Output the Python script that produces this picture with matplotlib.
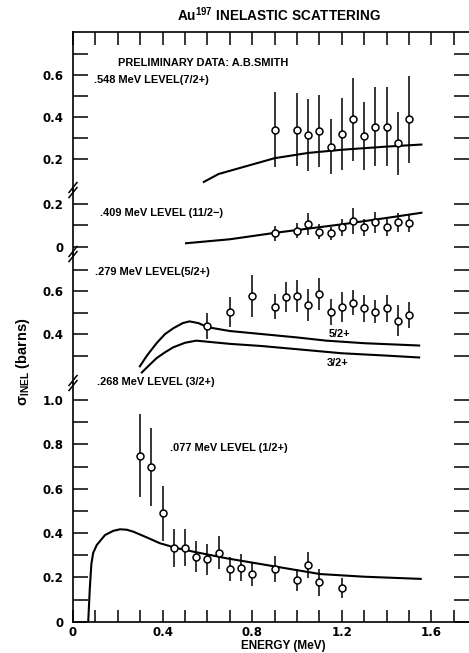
#!/usr/bin/env python3

import matplotlib

matplotlib.use("Agg")
import matplotlib.pyplot as plt
from matplotlib.lines import Line2D

# ============================================================================#
# data (energy in MeV, cross section in barns)

# .548 MeV level (7/2+)
e548 = [0.9, 1.0, 1.05, 1.1, 1.15, 1.2, 1.25, 1.3, 1.35, 1.4, 1.45, 1.5]
s548 = [0.34, 0.34, 0.315, 0.335, 0.26, 0.32, 0.39, 0.31, 0.355, 0.355, 0.275, 0.39]
err548 = [0.178, 0.173, 0.17, 0.17, 0.13, 0.17, 0.197, 0.162, 0.188, 0.188, 0.149, 0.206]
curve548_e = [0.58, 0.65, 0.75, 0.9, 1.05, 1.2, 1.4, 1.56]
curve548_s = [0.09, 0.13, 0.16, 0.205, 0.23, 0.245, 0.26, 0.27]

# .409 MeV level (11/2-)
e409 = [0.9, 1.0, 1.05, 1.1, 1.15, 1.2, 1.25, 1.3, 1.35, 1.4, 1.45, 1.5]
s409 = [0.063, 0.075, 0.106, 0.07, 0.063, 0.091, 0.122, 0.091, 0.114, 0.091, 0.114, 0.11]
err409 = [0.035, 0.035, 0.05, 0.035, 0.03, 0.04, 0.06, 0.04, 0.05, 0.04, 0.045, 0.04]
curve409_e = [0.5, 0.7, 0.9, 1.05, 1.2, 1.4, 1.56]
curve409_s = [0.016, 0.035, 0.065, 0.085, 0.105, 0.135, 0.16]

# .279 MeV level (5/2+) data, with 5/2+ and 3/2+ (.268 level) curves
e279 = [0.6, 0.7, 0.8, 0.9, 0.95, 1.0, 1.05, 1.1, 1.15, 1.2, 1.25, 1.3, 1.35, 1.4, 1.45, 1.5]
s279 = [0.439, 0.504, 0.579, 0.529, 0.573, 0.579, 0.536, 0.588,
        0.503, 0.529, 0.548, 0.521, 0.506, 0.521, 0.464, 0.489]
err279 = [0.06, 0.07, 0.1, 0.06, 0.07, 0.073, 0.075, 0.076,
          0.06, 0.07, 0.06, 0.063, 0.055, 0.063, 0.072, 0.06]
curve52_e = [0.296, 0.33, 0.373, 0.41, 0.448, 0.49, 0.52, 0.56, 0.6, 0.7, 0.85, 1.0, 1.13, 1.3, 1.55]
curve52_s = [0.246, 0.30, 0.358, 0.40, 0.428, 0.452, 0.46, 0.452, 0.433, 0.415, 0.40, 0.385, 0.37, 0.358, 0.347]
curve32_e = [0.304, 0.34, 0.373, 0.41, 0.448, 0.5, 0.55, 0.6, 0.7, 0.84, 1.0, 1.2, 1.4, 1.55]
curve32_s = [0.218, 0.255, 0.288, 0.315, 0.339, 0.36, 0.37, 0.365, 0.355, 0.345, 0.33, 0.311, 0.30, 0.291]

# .077 MeV level (1/2+)
e077 = [0.3, 0.35, 0.4, 0.45, 0.5, 0.55, 0.6, 0.65, 0.7, 0.75, 0.8, 0.9, 1.0, 1.05, 1.1, 1.2]
s077 = [0.749, 0.699, 0.489, 0.334, 0.334, 0.293, 0.281, 0.311,
        0.238, 0.244, 0.215, 0.238, 0.188, 0.256, 0.178, 0.153]
err077 = [0.187, 0.177, 0.124, 0.085, 0.083, 0.071, 0.07, 0.075,
          0.055, 0.06, 0.053, 0.058, 0.05, 0.06, 0.06, 0.045]
curve077_e = [0.068, 0.075, 0.082, 0.09, 0.106, 0.143, 0.18, 0.21, 0.24, 0.27, 0.33,
              0.388, 0.46, 0.537, 0.686, 0.909, 1.103, 1.3, 1.557]
curve077_s = [0.0, 0.15, 0.26, 0.31, 0.346, 0.391, 0.41, 0.417, 0.415, 0.406, 0.38,
              0.354, 0.333, 0.316, 0.286, 0.248, 0.215, 0.203, 0.193]

xticks = [i / 10 for i in range(18)]
xticklabels = ["0", "", "", "", "0.4", "", "", "", "0.8", "", "", "",
               "1.2", "", "", "", "1.6", ""]

# ============================================================================#
W, H = 469, 653
plt.rcParams["mathtext.fontset"] = "custom"
plt.rcParams["mathtext.rm"] = "Liberation Sans:bold"
plt.rcParams["mathtext.bf"] = "Liberation Sans:bold"

fig = plt.figure(figsize=(W / 100, H / 100), dpi=100)
fig.patch.set_facecolor("white")

TXT = dict(family="Liberation Sans", fontweight="bold", fontsize=7.9)
NUM = dict(family="DejaVu Sans", fontweight="bold", fontsize=8.5)


def px(x, y):
    """pixel position (from top left) -> figure fraction"""
    return x / W, 1 - y / H


left_px = 73
xmax = (W - left_px) / 224.0

# panel edges in pixels from the top, y limits, ticks
panels = [
    (32, 190, (0.054, 0.804), [0.2, 0.3, 0.4, 0.5, 0.6, 0.7], ["0.2", "", "0.4", "", "0.6", ""]),
    (190, 254, (-0.034, 0.266), [0.0, 0.1, 0.2], ["0", "", "0.2"]),
    (254, 383, (0.172, 0.775), [0.3, 0.4, 0.5, 0.6, 0.7], ["", "0.4", "", "0.6", ""]),
    (383, 621.7, (0.0, 1.077), [i / 10 for i in range(11)],
     ["0", "", "0.2", "", "0.4", "", "0.6", "", "0.8", "", "1.0"]),
]

axes = []
for ytop, ybot, ylim, yt, ytl in panels:
    x0, y0 = px(left_px, ybot)
    ax = fig.add_axes([x0, y0, 1 - x0, (ybot - ytop) / H])
    ax.set_facecolor("none")
    ax.set_xlim(0, xmax)
    ax.set_ylim(*ylim)
    for s in ["top", "bottom", "right"]:
        ax.spines[s].set_visible(False)
    ax.spines["left"].set_linewidth(1.2)
    ax.set_yticks(yt)
    ax.set_yticklabels(ytl, **NUM)
    ax.tick_params(axis="y", which="both", direction="in", length=11, width=1.1,
                   left=True, right=True, pad=7)
    ax.set_xticks(xticks)
    ax.tick_params(axis="x", direction="in", length=9, width=1.1,
                   bottom=False, top=False, labelbottom=False)
    axes.append(ax)

# top and bottom frame
axes[0].spines["top"].set_visible(True)
axes[0].spines["top"].set_linewidth(1.2)
axes[0].tick_params(axis="x", top=True)
axes[3].spines["bottom"].set_visible(True)
axes[3].spines["bottom"].set_linewidth(1.2)
axes[3].tick_params(axis="x", bottom=True, labelbottom=True, pad=3)
axes[3].set_xticklabels(xticklabels, **NUM)

ebkw = dict(fmt="o", color="black", mfc="white", mec="black", ms=5, mew=1.1,
            elinewidth=1.1, capsize=0, zorder=3)
lkw = dict(color="black", lw=1.5, solid_capstyle="butt")

ax = axes[0]
ax.plot(curve548_e, curve548_s, **lkw)
ax.errorbar(e548, s548, yerr=err548, **ebkw)
ax.text(0.2, 0.657, "PRELIMINARY DATA: A.B.SMITH", va="center", ha="left", **TXT)
ax.text(0.094, 0.576, ".548 MeV LEVEL(7/2+)", va="center", ha="left", **TXT)

ax = axes[1]
ax.plot(curve409_e, curve409_s, **lkw)
ax.errorbar(e409, s409, yerr=err409, **ebkw)
ax.text(0.12, 0.156, ".409 MeV LEVEL (11/2\u2212)", va="center", ha="left", **TXT)

ax = axes[2]
ax.plot(curve52_e, curve52_s, **lkw)
ax.plot(curve32_e, curve32_s, **lkw)
ax.errorbar(e279, s279, yerr=err279, **ebkw)
ax.text(0.098, 0.693, ".279 MeV LEVEL(5/2+)", va="center", ha="left", **TXT)
ax.text(0.106, 0.1785, ".268 MeV LEVEL (3/2+)", va="center", ha="left", clip_on=False, **TXT)
ax.text(1.192, 0.401, "5/2+", va="center", ha="center", **TXT)
ax.text(1.183, 0.267, "3/2+", va="center", ha="center", **TXT)

ax = axes[3]
ax.plot(curve077_e, curve077_s, **lkw)
ax.errorbar(e077, s077, yerr=err077, **ebkw)
ax.text(0.433, 0.782, ".077 MeV LEVEL (1/2+)", va="center", ha="left", **TXT)

# axis break marks on the left spine
for yb in [190, 254, 383]:
    for dy in [-2.5, 2.5]:
        xa, ya = px(left_px - 4, yb + 5 + dy)
        xb, yb2 = px(left_px + 4, yb - 5 + dy)
        fig.add_artist(Line2D([xa, xb], [ya, yb2], color="black", lw=1.1,
                              transform=fig.transFigure))

tx, ty = px(279, 15)
fig.text(tx, ty, "Au$^{\\mathbf{197}}$ INELASTIC SCATTERING", ha="center", va="center",
         family="Liberation Sans", fontweight="bold", fontsize=9.8)
tx, ty = px(283, 646)
fig.text(tx, ty, "ENERGY (MeV)", ha="center", va="center",
         family="Liberation Sans", fontweight="bold", fontsize=8.5)
tx, ty = px(23, 362)
fig.text(tx, ty, "\u03c3$_{\\mathbf{INEL}}$ (barns)", ha="center", va="center", rotation=90,
         family="Liberation Sans", fontweight="bold", fontsize=10.5)

fig.savefig("out.png", dpi=100, facecolor="white")
